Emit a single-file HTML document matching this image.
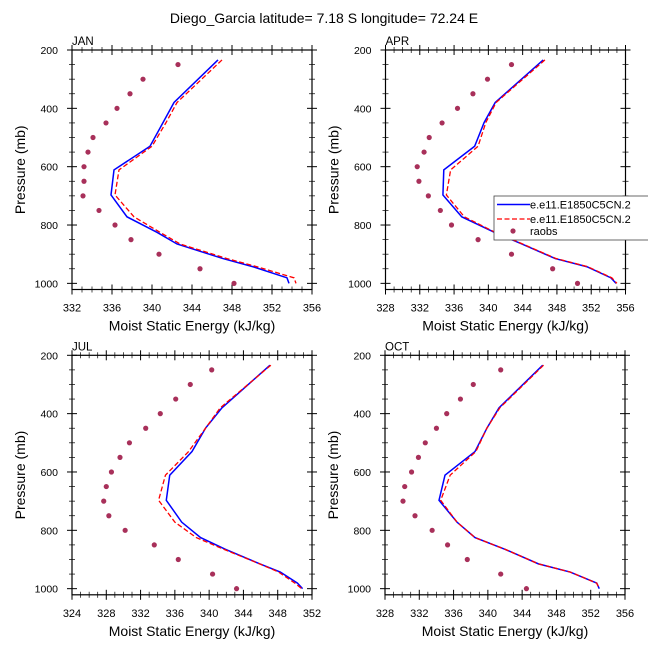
<!DOCTYPE html>
<html><head><meta charset="utf-8"><style>
body{margin:0;background:#fff}
svg{display:block;font-family:"Liberation Sans",Arial,sans-serif}
</style></head><body>
<svg id="c" width="648" height="648" viewBox="0 0 648 648">
<text x="324" y="23" text-anchor="middle" font-size="14">Diego_Garcia  latitude= 7.18 S longitude= 72.24 E</text>
</svg>
<script>
const months = ["JAN","APR","JUL","OCT"];
const modelLevels = [234,380,449,530,611,697,772,825,865,915,943,981,1000];
const obsLevels = [250,300,350,400,450,500,550,600,650,700,750,800,850,900,950,1000];
const janModel1 = [346.6,342.2,341.1,339.8,336.2,335.9,337.5,340.5,342.5,347.1,350.1,353.5,353.7];
const janModel2 = [347.0,342.5,341.4,340.0,336.7,336.3,338.2,340.8,342.8,347.5,350.5,354.2,354.4];
const janObs = [342.6,339.1,337.8,336.5,335.4,334.1,333.6,333.2,333.2,333.1,334.7,336.3,337.9,340.7,344.8,348.2];
const aprModel1 = [346.4,340.8,339.5,338.4,334.8,334.7,336.9,340.7,343.9,347.8,351.5,354.3,354.9];
const aprModel2 = [346.6,340.9,339.7,338.8,335.6,335.1,337.2,340.8,344.0,347.9,351.6,354.4,355.0];
const aprObs = [342.7,339.9,338.2,336.4,334.6,333.1,332.5,331.7,331.9,333.0,334.4,335.7,338.8,342.7,347.5,350.4];
const julModel1 = [347.1,341.5,339.6,338.0,335.4,335.0,336.8,339.0,341.9,345.9,348.3,350.3,350.9];
const julModel2 = [347.2,341.3,339.6,337.6,334.9,334.1,336.0,338.5,341.7,345.9,348.1,350.0,350.8];
const julObs = [340.3,337.8,336.1,334.3,332.6,330.7,329.6,328.6,328.0,327.7,328.3,330.2,333.6,336.4,340.4,343.2];
const octModel1 = [346.4,341.3,339.9,338.5,335.0,334.3,336.4,338.5,342.0,345.9,349.6,352.7,353.0];
const octModel2 = [346.5,341.4,339.9,338.6,335.6,334.5,336.4,338.5,342.0,345.9,349.6,352.7,353.0];
const octObs = [341.5,338.3,336.8,335.2,334.0,332.7,331.9,331.1,330.3,330.1,331.5,333.5,335.3,337.6,341.5,344.5];
const xMins = [332,328,324,328];
const xMaxs = [356,356,352,356];
const xTicks = [[332,336,340,344,348,352,356],[328,332,336,340,344,348,352,356],[324,328,332,336,340,344,348,352],[328,332,336,340,344,348,352,356]];
const yTicks = [200,400,600,800,1000];

const NS="http://www.w3.org/2000/svg";
const svg=document.getElementById('c');
function mk(t,a,p){const e=document.createElementNS(NS,t);for(const k in a)e.setAttribute(k,a[k]);(p||svg).appendChild(e);return e;}
const panels=[
 {m:janModel1,r:janModel2,o:janObs,L:72,T:50},
 {m:aprModel1,r:aprModel2,o:aprObs,L:385.5,T:50},
 {m:julModel1,r:julModel2,o:julObs,L:72,T:355.3},
 {m:octModel1,r:octModel2,o:octObs,L:385,T:355.3}
];
panels.forEach((P,i)=>{
 const W=240,L=P.L,T=P.T,B=T+239.5;
 const xs=v=>L+(v-xMins[i])/(xMaxs[i]-xMins[i])*W;
 const ys=p=>T+(p-200)*0.2917;
 const g=mk('g',{});
 
 
 const fr=mk('rect',{x:L,y:T,width:W,height:B-T,fill:'none',stroke:'#000','stroke-width':1.2},g);
 
 
 for(let p=200;p<=1020;p+=50){const y=ys(p);const maj=(p%200===0);const len=maj?5:3;
  mk('line',{x1:L-len,x2:L+len,y1:y,y2:y,stroke:'#000','stroke-width':maj?1:0.7},g);
  mk('line',{x1:L+W-len,x2:L+W+len,y1:y,y2:y,stroke:'#000','stroke-width':maj?1:0.7},g);}
 yTicks.forEach(p=>{const t=mk('text',{x:L-14,y:ys(p)+4,'text-anchor':'end','font-size':10.5},g);t.textContent=p;
  
  });
 for(let v=xMins[i];v<=xMaxs[i]+0.01;v+=1){const x=xs(v);const maj=((v-xMins[i])%4===0);const len=maj?5:3;
  mk('line',{x1:x,x2:x,y1:T-len,y2:T+len,stroke:'#000','stroke-width':maj?1:0.7},g);
  mk('line',{x1:x,x2:x,y1:B-len,y2:B+len,stroke:'#000','stroke-width':maj?1:0.7},g);}
 xTicks[i].forEach(v=>{const t=mk('text',{x:xs(v),y:B+22,'text-anchor':'middle','font-size':11},g);t.textContent=v;
  
  });
 const xt=mk('text',{x:L+W/2,y:B+41,'text-anchor':'middle','font-size':14},g);xt.textContent='Moist Static Energy (kJ/kg)';
 
 
 const yt=mk('text',{x:0,y:0,'text-anchor':'middle','font-size':14,transform:`translate(${L-47},${(T+B)/2}) rotate(-90)`},g);yt.textContent='Pressure (mb)';
 
 
 const ml=mk('text',{x:L,y:T-5,'font-size':11.5},g);ml.textContent=months[i];
 
 
 const l1=mk('polyline',{points:P.m.map((v,k)=>xs(v)+','+ys(modelLevels[k])).join(' '),fill:'none',stroke:'#0000ff','stroke-width':1.5},g);
 
 
 const l2=mk('polyline',{points:P.r.map((v,k)=>xs(v)+','+ys(modelLevels[k])).join(' '),fill:'none',stroke:'#ff0000','stroke-width':1.3,'stroke-dasharray':'5,2.5'},g);
 
 
 P.o.forEach((v,k)=>{const c=mk('circle',{cx:xs(v),cy:ys(obsLevels[k]),r:2.6,fill:'#a8305a'},g);
  
  });
});
const lg=mk('g',{});


mk('rect',{x:494,y:196,width:160,height:44,fill:'#fff',stroke:'#444','stroke-width':0.8},lg);
mk('line',{x1:497,x2:530,y1:204.5,y2:204.5,stroke:'#0000ff','stroke-width':1.5},lg);
mk('line',{x1:497,x2:530,y1:219,y2:219,stroke:'#ff0000','stroke-width':1.3,'stroke-dasharray':'5,2.5'},lg);
mk('circle',{cx:513,cy:231,r:2.6,fill:'#a8305a'},lg);
[['e.e11.E1850C5CN.2',208.5],['e.e11.E1850C5CN.2',223],['raobs',235]].forEach(([s,y])=>{const t=mk('text',{x:530,y:y,'font-size':11},lg);t.textContent=s;
 
 });
</script>
</body></html>
